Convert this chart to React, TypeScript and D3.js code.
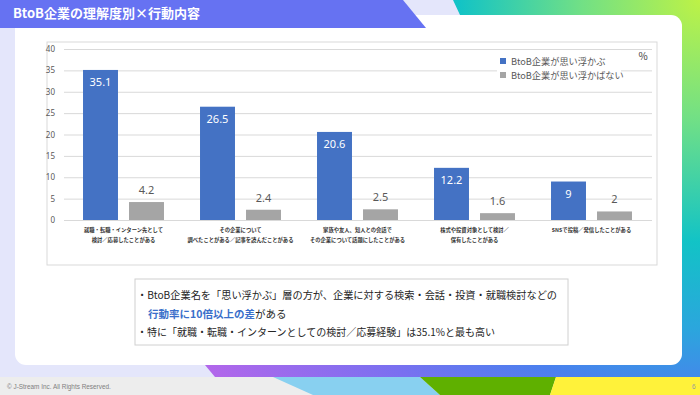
import React, { useEffect, useRef } from "react";
import * as d3 from "d3";

const categoryLines = [
    ["就職・転職・インターン先として", "検討／応募したことがある"],
    ["その企業について", "調べたことがある／記事を読んだことがある"],
    ["家族や友人、知人との会話で", "その企業について話題にしたことがある"],
    ["株式や投資対象として検討／", "保有したことがある"],
    ["SNSで投稿／発信したことがある"],
];
const seriesNames = ["BtoB企業が思い浮かぶ", "BtoB企業が思い浮かばない"];
const recallValues = [35.1, 26.5, 20.6, 12.2, 9];
const noRecallValues = [4.2, 2.4, 2.5, 1.6, 2];
const yTicks = [0, 5, 10, 15, 20, 25, 30, 35, 40];

const JP = "'Noto Sans CJK JP', 'Noto Sans', sans-serif";
const BLUE = "#4472c4";
const GREY = "#a5a5a5";

export const App: React.FC = () => {
    const chartRef: any = useRef(null);

    useEffect(() => {
        const W = 700;
        const H = 395;
        d3.select(chartRef.current).selectAll("*").remove();

        const svg = d3
            .select(chartRef.current)
            .append("svg")
            .attr("width", W)
            .attr("height", H)
            .style("display", "block");

        // 背景
        const defs = svg.append("defs");
        const grad = defs
            .append("radialGradient")
            .attr("id", "bgGrad")
            .attr("gradientUnits", "userSpaceOnUse")
            .attr("cx", 700)
            .attr("cy", 0)
            .attr("r", 620);
        [
            [0, "#bdf246"],
            [0.19, "#72e085"],
            [0.39, "#12c3c6"],
            [0.53, "#2ba6dd"],
            [0.64, "#4a80ee"],
            [0.77, "#7a70f0"],
            [1, "#b466ea"],
        ].forEach(([o, c]) => grad.append("stop").attr("offset", o as number).attr("stop-color", c as string));

        svg.append("rect").attr("width", W).attr("height", H).attr("fill", "#e4e6fb");
        svg
            .append("polygon")
            .attr("points", "453,0 700,0 700,377 215,377 205,365 460,15")
            .attr("fill", "url(#bgGrad)");

        // フッター
        svg.append("rect").attr("x", 0).attr("y", 377).attr("width", W).attr("height", 18).attr("fill", "#ededed");
        svg.append("polygon").attr("points", "273,377 420,377 440,395 313,395").attr("fill", "#88d0f0");
        svg.append("polygon").attr("points", "420,377 556,377 550,395 440,395").attr("fill", "#5fb000");
        svg.append("polygon").attr("points", "556,377 700,377 700,395 550,395").attr("fill", "#fff23a");
        svg
            .append("text")
            .attr("x", 7)
            .attr("y", 388.5)
            .attr("font-family", "'Liberation Sans', sans-serif")
            .attr("font-size", 6.4)
            .attr("fill", "#808080")
            .text("© J-Stream Inc. All Rights Reserved.");
        svg
            .append("text")
            .attr("x", 692)
            .attr("y", 388.5)
            .attr("font-family", "'Liberation Sans', sans-serif")
            .attr("font-size", 6.5)
            .attr("fill", "#9a9a9a")
            .text("6");

        // カード
        svg.append("rect").attr("x", 15).attr("y", 15).attr("width", 667).attr("height", 350).attr("rx", 11).attr("fill", "#ffffff");

        // タイトル帯
        svg.append("polygon").attr("points", "0,0 403,0 426,28 0,28").attr("fill", "#6672f2");
        svg
            .append("text")
            .attr("x", 13)
            .attr("y", 18)
            .attr("font-family", JP)
            .attr("font-weight", "bold")
            .attr("font-size", 13)
            .attr("fill", "#ffffff")
            .text("BtoB企業の理解度別×行動内容");

        // グラフ枠
        svg
            .append("rect")
            .attr("x", 47)
            .attr("y", 42)
            .attr("width", 610)
            .attr("height", 223)
            .attr("fill", "#ffffff")
            .attr("stroke", "#d9d9d9")
            .attr("stroke-width", 1);

        const left = 65;
        const right = 650;
        const x0 = d3
            .scaleBand<number>()
            .domain(d3.range(categoryLines.length))
            .range([left, right])
            .paddingInner(0.308)
            .paddingOuter(0.154);
        const x1 = d3
            .scaleBand<number>()
            .domain([0, 1])
            .range([0, x0.bandwidth()])
            .paddingInner(0.24);
        const y = d3.scaleLinear().domain([0, 40]).range([220, 49]);

        // 目盛線
        const yAxis = d3
            .axisLeft(y)
            .tickValues(yTicks)
            .tickSize(-(right - left + 3))
            .tickPadding(9)
            .tickFormat((d: any) => String(d));
        const gy = svg.append("g").attr("transform", `translate(${left - 1}, 0)`).call(yAxis);
        gy.select(".domain").remove();
        gy.selectAll("line").attr("stroke", "#d9d9d9").attr("stroke-width", 1);
        gy.selectAll("text")
            .attr("font-family", "'Noto Sans', sans-serif")
            .attr("font-size", 8)
            .attr("fill", "#595959");

        // 棒
        const series = [recallValues, noRecallValues];
        const colors = [BLUE, GREY];
        series.forEach((vals, si) => {
            svg
                .append("g")
                .selectAll("rect")
                .data(vals)
                .join("rect")
                .attr("x", (_d, i) => (x0(i) as number) + (x1(si) as number))
                .attr("y", (d) => y(d))
                .attr("width", x1.bandwidth())
                .attr("height", (d) => y(0) - y(d))
                .attr("fill", colors[si]);

            svg
                .append("g")
                .selectAll("text")
                .data(vals)
                .join("text")
                .attr("x", (_d, i) => (x0(i) as number) + (x1(si) as number) + x1.bandwidth() / 2)
                .attr("y", (d) => (si === 0 ? y(d) + 16.5 : y(d) - 8))
                .attr("text-anchor", "middle")
                .attr("font-family", "'Noto Sans', sans-serif")
                .attr("font-size", 11)
                .attr("fill", si === 0 ? "#ffffff" : "#595959")
                .text((d) => String(d));
        });

        // カテゴリラベル
        const cat = svg
            .append("g")
            .selectAll("text")
            .data(categoryLines)
            .join("text")
            .attr("text-anchor", "middle")
            .attr("font-family", JP)
            .attr("font-weight", "bold")
            .attr("font-size", 5.3)
            .attr("fill", "#333333");
        cat.each(function (lines, i) {
            const t = d3.select(this);
            lines.forEach((ln, li) => {
                t.append("tspan")
                    .attr("x", (x0(i) as number) + x0.bandwidth() / 2)
                    .attr("y", 232 + li * 10)
                    .text(ln);
            });
        });

        // 凡例
        svg.append("rect").attr("x", 497).attr("y", 53).attr("width", 124).attr("height", 30).attr("fill", "#ffffff");
        seriesNames.forEach((name, i) => {
            svg.append("rect").attr("x", 500).attr("y", 58 + i * 14).attr("width", 6).attr("height", 6).attr("fill", colors[i]);
            svg
                .append("text")
                .attr("x", 511)
                .attr("y", 64.5 + i * 14)
                .attr("font-family", JP)
                .attr("font-size", 9.2)
                .attr("fill", "#595959")
                .text(name);
        });
        svg
            .append("text")
            .attr("x", 643)
            .attr("y", 60)
            .attr("text-anchor", "middle")
            .attr("font-family", JP)
            .attr("font-size", 10)
            .attr("fill", "#404040")
            .text("%");

        // コメント枠
        svg
            .append("rect")
            .attr("x", 135)
            .attr("y", 279)
            .attr("width", 433)
            .attr("height", 66)
            .attr("fill", "#ffffff")
            .attr("stroke", "#d0d0d0")
            .attr("stroke-width", 1);
        svg
            .append("text")
            .attr("x", 137)
            .attr("y", 299)
            .attr("font-family", JP)
            .attr("font-size", 10.5)
            .attr("fill", "#262626")
            .attr("textLength", 420)
            .attr("lengthAdjust", "spacingAndGlyphs")
            .text("・BtoB企業名を「思い浮かぶ」層の方が、企業に対する検索・会話・投資・就職検討などの");
        const l2 = svg
            .append("text")
            .attr("x", 148)
            .attr("y", 317.5)
            .attr("font-family", JP)
            .attr("font-size", 10.5);
        l2.append("tspan").attr("fill", "#3a6fca").attr("font-weight", "bold").text("行動率に10倍以上の差");
        l2.append("tspan").attr("fill", "#262626").text("がある");
        svg
            .append("text")
            .attr("x", 137)
            .attr("y", 336)
            .attr("font-family", JP)
            .attr("font-size", 10.5)
            .attr("fill", "#262626")
            .attr("textLength", 358)
            .attr("lengthAdjust", "spacingAndGlyphs")
            .text("・特に「就職・転職・インターンとしての検討／応募経験」は35.1%と最も高い");
    }, []);

    return <div ref={chartRef} style={{ position: "absolute", left: 0, top: 0, width: 700, height: 395 }}></div>;
};

export default App;
